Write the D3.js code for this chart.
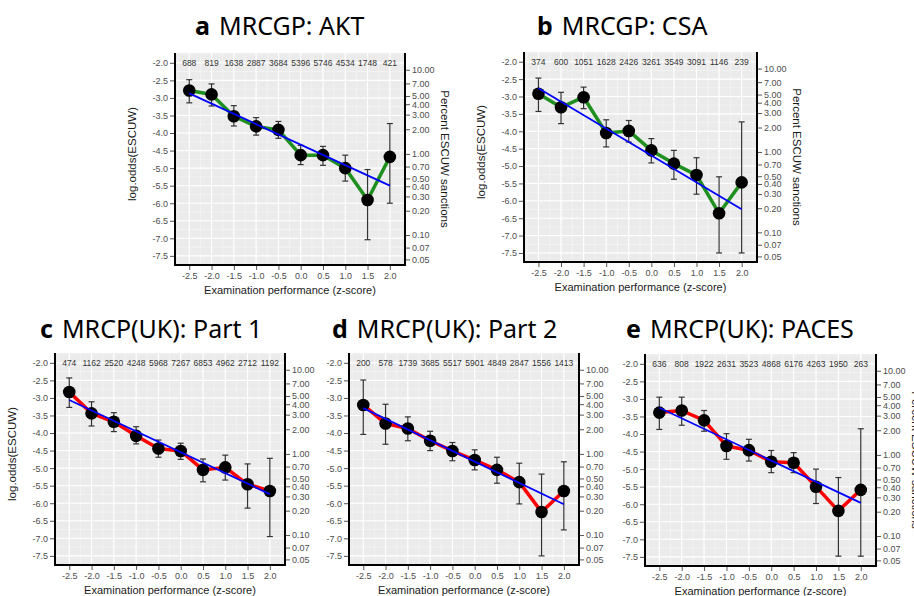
<!DOCTYPE html>
<html>
<head>
<meta charset="utf-8">
<script src="https://cdn.jsdelivr.net/npm/d3@7"></script>
<style>
  body { margin: 0; background: #fff; }
  svg { display: block; }
</style>
</head>
<body>
<svg id="chart" width="914" height="596"></svg>
<script>
// z-score bands (x) and axis ticks
const zScores = [-2.5, -2.0, -1.5, -1.0, -0.5, 0.0, 0.5, 1.0, 1.5, 2.0];
const logOddsTicks = [-2.0, -2.5, -3.0, -3.5, -4.0, -4.5, -5.0, -5.5, -6.0, -6.5, -7.0, -7.5];
const percentTicks = [10, 7, 5, 4, 3, 2, 1, 0.7, 0.5, 0.4, 0.3, 0.2, 0.1, 0.07, 0.05];

// a MRCGP: AKT
const aktCounts = [688, 819, 1638, 2887, 3684, 5396, 5746, 4534, 1748, 421];
const aktLogOdds = [-2.79, -2.90, -3.52, -3.81, -3.91, -4.63, -4.63, -5.00, -5.91, -4.68];
const aktLower = [-3.14, -3.23, -3.80, -4.06, -4.15, -4.90, -4.92, -5.37, -7.04, -6.00];
const aktUpper = [-2.48, -2.60, -3.22, -3.56, -3.67, -4.35, -4.38, -4.63, -5.04, -3.73];
const aktFit = [-2.87, -5.50];

// b MRCGP: CSA
const csaCounts = [374, 600, 1051, 1628, 2426, 3261, 3549, 3091, 1146, 239];
const csaLogOdds = [-2.92, -3.31, -3.02, -4.05, -3.99, -4.55, -4.93, -5.26, -6.36, -5.47];
const csaLower = [-3.43, -3.78, -3.35, -4.45, -4.31, -4.91, -5.38, -5.81, -7.50, -7.50];
const csaUpper = [-2.47, -2.88, -2.73, -3.67, -3.69, -4.21, -4.55, -4.76, -5.31, -3.73];
const csaFit = [-2.76, -6.24];

// c MRCP(UK): Part 1
const part1Counts = [474, 1162, 2520, 4248, 5968, 7267, 6853, 4962, 2712, 1192];
const part1LogOdds = [-2.83, -3.44, -3.68, -4.08, -4.44, -4.51, -5.05, -4.98, -5.46, -5.65];
const part1Lower = [-3.27, -3.80, -3.96, -4.31, -4.69, -4.75, -5.39, -5.34, -6.14, -6.95];
const part1Upper = [-2.43, -3.11, -3.42, -3.82, -4.20, -4.29, -4.74, -4.63, -4.88, -4.72];
const part1Fit = [-3.06, -5.74];

// d MRCP(UK): Part 2
const part2Counts = [200, 578, 1739, 3685, 5517, 5901, 4849, 2847, 1556, 1413];
const part2LogOdds = [-3.20, -3.73, -3.87, -4.22, -4.51, -4.77, -5.05, -5.40, -6.25, -5.65];
const part2Lower = [-4.04, -4.32, -4.22, -4.50, -4.79, -5.05, -5.43, -6.02, -7.50, -6.76];
const part2Upper = [-2.49, -3.18, -3.54, -3.95, -4.27, -4.48, -4.69, -4.86, -5.17, -4.82];
const part2Fit = [-3.29, -6.03];

// e MRCP(UK): PACES
const pacesCounts = [636, 808, 1922, 2631, 3523, 4868, 6176, 4263, 1950, 263];
const pacesLogOdds = [-3.39, -3.33, -3.61, -4.34, -4.46, -4.79, -4.82, -5.50, -6.19, -5.59];
const pacesLower = [-3.87, -3.75, -3.92, -4.72, -4.77, -5.10, -5.10, -5.98, -7.48, -7.48];
const pacesUpper = [-2.95, -2.95, -3.33, -3.99, -4.15, -4.47, -4.53, -5.00, -5.24, -3.85];
const pacesFit = [-3.25, -5.96];

const panels = [
  { id: "a", name: "MRCGP: AKT", counts: aktCounts, est: aktLogOdds, lo: aktLower, hi: aktUpper, fit: aktFit,
    color: "#1f8f1f", left: 175, top: 53, width: 230, height: 212, clip: [0, 470], titleX: 195, titleY: 35 },
  { id: "b", name: "MRCGP: CSA", counts: csaCounts, est: csaLogOdds, lo: csaLower, hi: csaUpper, fit: csaFit,
    color: "#1f8f1f", left: 524, top: 52, width: 233, height: 210, clip: [470, 914], titleX: 537, titleY: 35 },
  { id: "c", name: "MRCP(UK): Part 1", counts: part1Counts, est: part1LogOdds, lo: part1Lower, hi: part1Upper, fit: part1Fit,
    color: "#ff0000", left: 55, top: 353, width: 230, height: 212, clip: [0, 315], titleX: 40, titleY: 338 },
  { id: "d", name: "MRCP(UK): Part 2", counts: part2Counts, est: part2LogOdds, lo: part2Lower, hi: part2Upper, fit: part2Fit,
    color: "#ff0000", left: 349, top: 353, width: 230, height: 212, clip: [315, 612], titleX: 332, titleY: 338 },
  { id: "e", name: "MRCP(UK): PACES", counts: pacesCounts, est: pacesLogOdds, lo: pacesLower, hi: pacesUpper, fit: pacesFit,
    color: "#ff0000", left: 645, top: 354, width: 231, height: 212, clip: [612, 914], titleX: 626, titleY: 338 }
];

const logit = p => Math.log(p / (1 - p));
const svg = d3.select("#chart");
const defs = svg.append("defs");
const tickFont = "'Liberation Sans', Arial, sans-serif";

panels.forEach(p => {
  defs.append("clipPath").attr("id", "clip-" + p.id)
    .append("rect").attr("x", p.clip[0]).attr("y", 0)
    .attr("width", p.clip[1] - p.clip[0]).attr("height", 596);

  const x = d3.scaleLinear().domain([-2.82, 2.34]).range([p.left, p.left + p.width]);
  const y = d3.scaleLinear().domain([-7.76, -1.72]).range([p.top + p.height, p.top]);
  const g = svg.append("g").attr("clip-path", `url(#clip-${p.id})`);
  const right = p.left + p.width, bottom = p.top + p.height;

  // panel title
  const title = g.append("text").attr("x", p.titleX).attr("y", p.titleY)
    .style("font-family", "'Noto Sans', 'Open Sans', sans-serif").style("font-size", "25px").attr("fill", "#000");
  title.append("tspan").text(p.id).style("font-weight", "bold");
  title.append("tspan").attr("dx", 9).text(p.name);

  // background + grid
  g.append("rect").attr("x", p.left).attr("y", p.top).attr("width", p.width).attr("height", p.height)
    .attr("fill", "#ebebeb");
  const minorX = d3.range(-2.75, 2.3, 0.25);
  const minorY = d3.range(-7.75, -1.7, 0.25);
  g.append("g").selectAll("line").data(minorX).join("line")
    .attr("x1", d => x(d)).attr("x2", d => x(d)).attr("y1", p.top).attr("y2", bottom)
    .attr("stroke", "#f7f7f7").attr("stroke-width", 0.6);
  g.append("g").selectAll("line").data(minorY).join("line")
    .attr("y1", d => y(d)).attr("y2", d => y(d)).attr("x1", p.left).attr("x2", right)
    .attr("stroke", "#f7f7f7").attr("stroke-width", 0.6);
  g.append("g").selectAll("line").data(zScores).join("line")
    .attr("x1", d => x(d)).attr("x2", d => x(d)).attr("y1", p.top).attr("y2", bottom)
    .attr("stroke", "#fff").attr("stroke-width", 1.1);
  g.append("g").selectAll("line").data(logOddsTicks).join("line")
    .attr("y1", d => y(d)).attr("y2", d => y(d)).attr("x1", p.left).attr("x2", right)
    .attr("stroke", "#fff").attr("stroke-width", 1.1);

  // axes
  const styleAxis = sel => {
    sel.select(".domain").remove();
    sel.selectAll(".tick line").attr("stroke", "#555");
    sel.selectAll(".tick text").attr("fill", "#4d4d4d")
      .style("font-family", tickFont).style("font-size", "9px");
  };
  g.append("g").attr("transform", `translate(${p.left},0)`)
    .call(d3.axisLeft(y).tickValues(logOddsTicks).tickFormat(d => d.toFixed(1)).tickSize(5).tickPadding(2))
    .call(styleAxis);
  g.append("g").attr("transform", `translate(0,${bottom})`)
    .call(d3.axisBottom(x).tickValues(zScores).tickFormat(d => d.toFixed(1)).tickSize(5).tickPadding(3))
    .call(styleAxis);
  g.append("g").attr("transform", `translate(${right},0)`)
    .call(d3.axisRight(y).tickValues(percentTicks.map(v => logit(v / 100)))
      .tickFormat((d, i) => percentTicks[i].toFixed(2)).tickSize(5).tickPadding(2))
    .call(styleAxis);

  g.append("path")
    .attr("d", `M${p.left},${p.top}V${bottom}H${right}V${p.top}`)
    .attr("fill", "none").attr("stroke", "#000").attr("stroke-width", 2);

  // axis titles
  g.append("text").attr("x", (p.left + right) / 2).attr("y", bottom + 29)
    .attr("text-anchor", "middle").style("font-family", tickFont).style("font-size", "11px")
    .attr("fill", "#1a1a1a").text("Examination performance (z-score)");
  g.append("text").attr("transform", `translate(${p.left - 39},${p.top + p.height / 2 - 5}) rotate(-90)`)
    .attr("text-anchor", "middle").style("font-family", tickFont).style("font-size", "11.5px")
    .attr("fill", "#1a1a1a").text("log.odds(ESCUW)");
  g.append("text").attr("transform", `translate(${right + 36},${p.top + p.height / 2}) rotate(90)`)
    .attr("text-anchor", "middle").style("font-family", tickFont).style("font-size", "11.5px")
    .attr("fill", "#1a1a1a").text("Percent ESCUW sanctions");

  // counts per band
  g.append("g").selectAll("text").data(p.counts).join("text")
    .attr("x", (d, i) => x(zScores[i])).attr("y", y(-2.0)).attr("dy", "0.35em")
    .attr("text-anchor", "middle").style("font-family", tickFont).style("font-size", "8.5px")
    .attr("fill", "#333").text(d => d);

  const pts = zScores.map((z, i) => ({ z, est: p.est[i], lo: p.lo[i], hi: p.hi[i] }));

  // observed line
  g.append("path").datum(pts)
    .attr("d", d3.line().x(d => x(d.z)).y(d => y(d.est)))
    .attr("fill", "none").attr("stroke", p.color).attr("stroke-width", 3.5).attr("stroke-linejoin", "round");

  // error bars
  const eb = g.append("g").attr("stroke", "#333").attr("stroke-width", 1.2);
  eb.selectAll(".v").data(pts).join("line").attr("class", "v")
    .attr("x1", d => x(d.z)).attr("x2", d => x(d.z)).attr("y1", d => y(d.lo)).attr("y2", d => y(d.hi));
  eb.selectAll(".t").data(pts).join("line").attr("class", "t")
    .attr("x1", d => x(d.z) - 3).attr("x2", d => x(d.z) + 3).attr("y1", d => y(d.hi)).attr("y2", d => y(d.hi));
  eb.selectAll(".b").data(pts).join("line").attr("class", "b")
    .attr("x1", d => x(d.z) - 3).attr("x2", d => x(d.z) + 3).attr("y1", d => y(d.lo)).attr("y2", d => y(d.lo));

  // points
  g.append("g").selectAll("circle").data(pts).join("circle")
    .attr("cx", d => x(d.z)).attr("cy", d => y(d.est)).attr("r", 6.3).attr("fill", "#000");

  // linear fit
  g.append("line")
    .attr("x1", x(zScores[0])).attr("y1", y(p.fit[0]))
    .attr("x2", x(zScores[zScores.length - 1])).attr("y2", y(p.fit[1]))
    .attr("stroke", "#0000ff").attr("stroke-width", 1.8);
});
</script>
</body>
</html>
